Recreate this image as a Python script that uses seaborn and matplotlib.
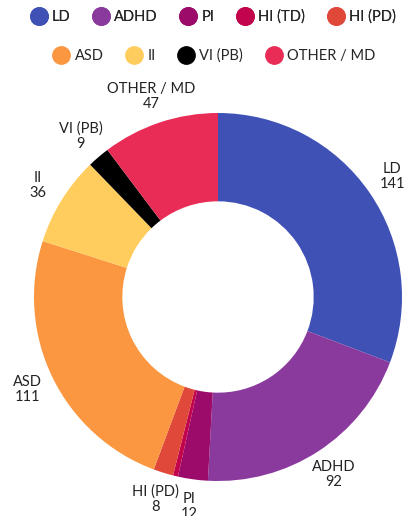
import matplotlib
matplotlib.use("Agg")
import matplotlib.pyplot as plt
from matplotlib.lines import Line2D
import seaborn as sns
import numpy as np

categories = ["LD", "ADHD", "PI", "HI (TD)", "HI (PD)", "ASD", "II", "VI (PB)", "OTHER / MD"]
values = [141, 92, 12, 2, 8, 111, 36, 9, 47]
colors = ["#3F51B5", "#8A3A9C", "#9C0A6A", "#C2044C", "#E0483A", "#FB9641", "#FFCC5E", "#000000", "#E92C55"]
show_label = [True, True, True, False, True, True, True, True, True]

sns.set_theme(style="white")
plt.rcParams['font.family'] = ['Lato', 'DejaVu Sans']

W, H = 409, 516
fig = plt.figure(figsize=(W / 100, H / 100), dpi=100)
cx, cy, R = 218, 297, 184
lim = 1.3
half = lim * R
ax = fig.add_axes([(cx - half) / W, (H - cy - half) / H, 2 * half / W, 2 * half / H])

wedges, _ = ax.pie(values, colors=colors, startangle=90, counterclock=False, radius=1,
                   wedgeprops=dict(width=0.48, edgecolor="none"))
ax.set_xlim(-lim, lim)
ax.set_ylim(-lim, lim)
ax.set_aspect("equal")
ax.axis("off")

total = sum(values)
start = 90.0
for v, name, show in zip(values, categories, show_label):
    span = v / total * 360
    mid = np.deg2rad(start - span / 2)
    start -= span
    if not show:
        continue
    r = 1.15
    x, y = r * np.cos(mid), r * np.sin(mid)
    ax.text(x, y, f"{name}\n{v}", ha="center", va="center", fontsize=10.5,
            color="#222222", linespacing=1.1, clip_on=False)

handles = [Line2D([0], [0], marker="o", linestyle="", markersize=12.5,
                  markerfacecolor=c, markeredgecolor=c) for c in colors]
kw = dict(loc="center", frameon=False, fontsize=10.5, handletextpad=0.4,
          columnspacing=1.6, handlelength=1.0, borderaxespad=0)
leg1 = fig.legend(handles[:5], categories[:5], bbox_to_anchor=(0.522, 1 - 17 / H), ncol=5, **kw)
fig.add_artist(leg1)
fig.legend(handles[5:], categories[5:], bbox_to_anchor=(0.525, 1 - 56 / H), ncol=4, **kw)

fig.savefig("out.png", dpi=100)
